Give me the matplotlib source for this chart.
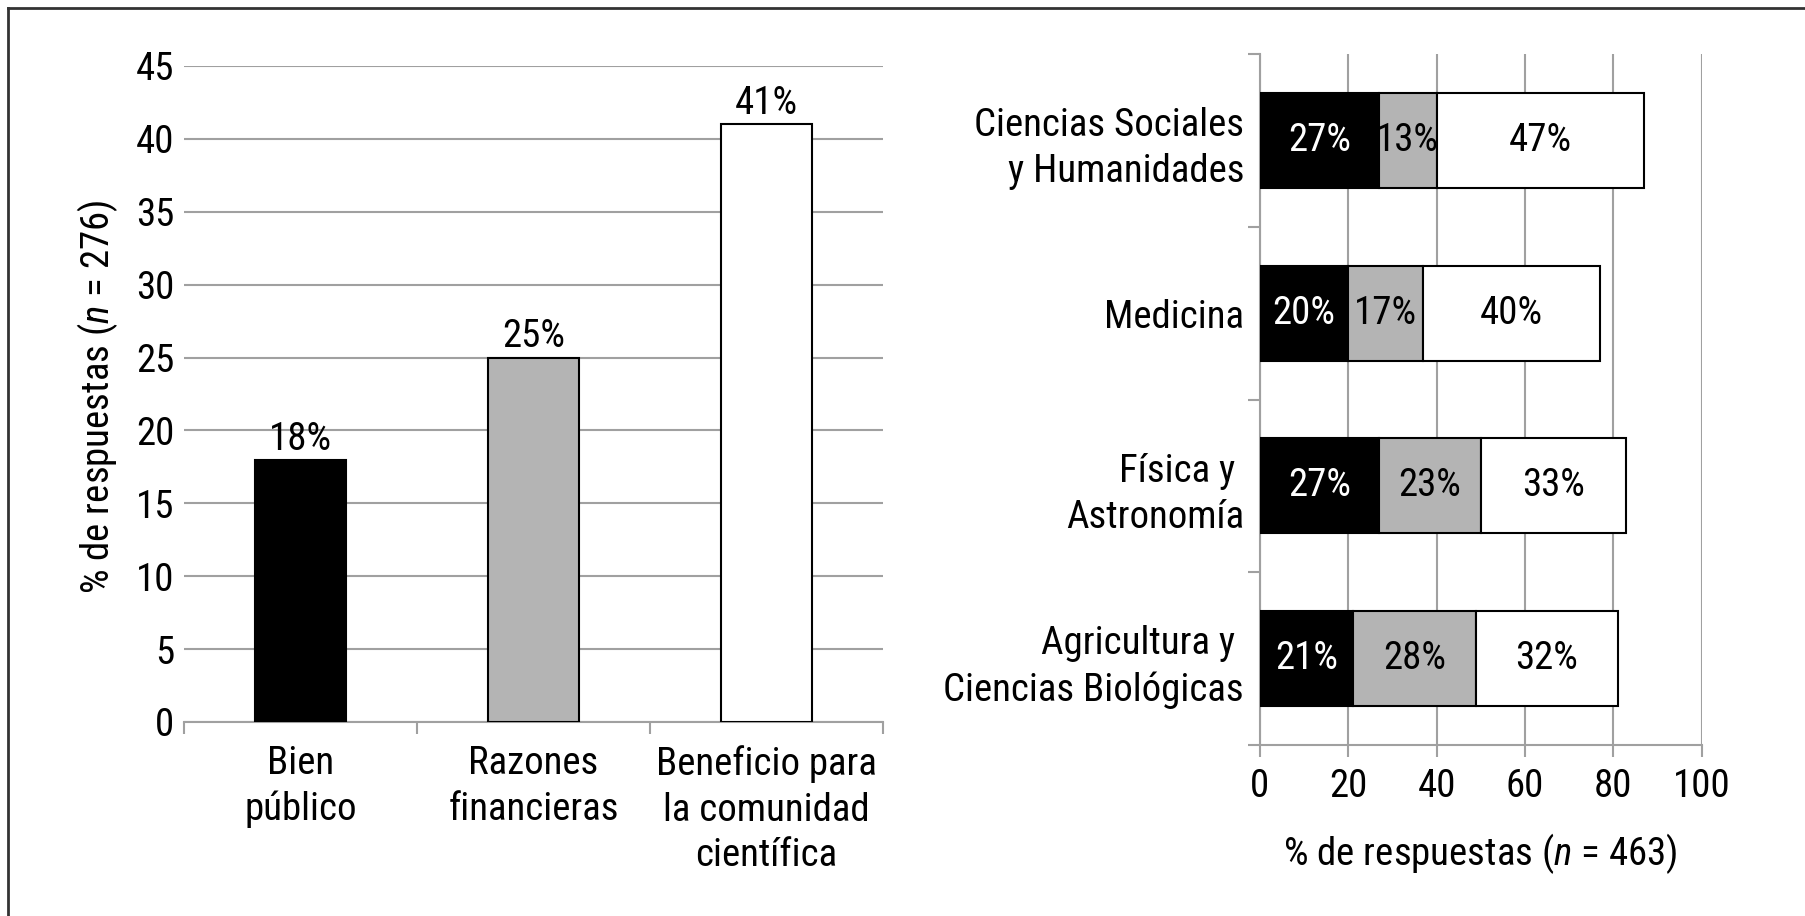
import numpy as np
import matplotlib
matplotlib.use("Agg")
import matplotlib.pyplot as plt
from matplotlib.lines import Line2D
from matplotlib import font_manager as fm

# pick a condensed sans that is installed
installed = {f.name for f in fm.fontManager.ttflist}
FONT = next((n for n in ['Roboto Condensed', 'Archivo Narrow', 'IBM Plex Sans Condensed',
                         'Open Sans Condensed'] if n in installed), 'DejaVu Sans')
plt.rcParams['font.family'] = [FONT, 'DejaVu Sans']
plt.rcParams['mathtext.fontset'] = 'custom'
plt.rcParams['mathtext.it'] = FONT + ':italic'
plt.rcParams['mathtext.rm'] = FONT

# left panel: reasons
razones = ['Bien\npúblico', 'Razones\nfinancieras', 'Beneficio para\nla comunidad\ncientífica']
razones_pct = [18, 25, 41]
razones_col = ['black', '#b4b4b4', 'white']
yticks_left = [0, 5, 10, 15, 20, 25, 30, 35, 40, 45]

# right panel: by field
areas = ['Ciencias Sociales\ny Humanidades', 'Medicina', 'Física y \nAstronomía',
         'Agricultura y \nCiencias Biológicas']
serie_negra = [27, 20, 27, 21]
serie_gris = [13, 17, 23, 28]
serie_blanca = [47, 40, 33, 32]
xticks_right = [0, 20, 40, 60, 80, 100]

FS = 28
GRID = '#a0a0a0'
LS = 1.3
TL = 8.6  # tick length in points (~12 px)

fig = plt.figure(figsize=(18.06, 9.16), dpi=100)

# ---- left chart
ax1 = fig.add_axes([184/1806, 1-722/916, 699/1806, 656/916])
x = np.arange(len(razones))
ax1.bar(x, razones_pct, width=0.39, color=razones_col, edgecolor='black',
        linewidth=1.5, zorder=3)
for xi, v in zip(x, razones_pct):
    ax1.annotate(f'{v}%', (xi, v), xytext=(0, 1.5), textcoords='offset points',
                 ha='center', va='bottom', fontsize=FS)
ax1.set_xlim(-0.5, 2.5)
ax1.set_ylim(0, 45)
ax1.set_yticks(yticks_left)
ax1.yaxis.grid(True, color=GRID, linewidth=1.5, zorder=0)
ax1.set_axisbelow(True)
ax1.set_xticks(x)
ax1.set_xticklabels(razones, fontsize=FS, linespacing=LS, va='top')
ax1.set_xticks([-0.5, 0.5, 1.5, 2.5], minor=True)
ax1.tick_params(axis='x', which='major', length=0, pad=TL + 8)
ax1.tick_params(axis='x', which='minor', length=TL, width=1.5, color=GRID, direction='out')
ax1.tick_params(axis='y', length=0, pad=7, labelsize=FS)
for s in ['top', 'right', 'left']:
    ax1.spines[s].set_visible(False)
ax1.spines['bottom'].set_color(GRID)
ax1.spines['bottom'].set_linewidth(1.5)
ax1.text(-0.123, 0.496, '% de respuestas ($n$ = 276)', transform=ax1.transAxes,
         rotation=90, ha='center', va='center', fontsize=FS)

# ---- right chart
ax2 = fig.add_axes([1260/1806, 1-745/916, 441.5/1806, 691/916])
y = np.arange(len(areas))
left = np.zeros(len(areas))
for vals, col, tcol in [(serie_negra, 'black', 'white'),
                        (serie_gris, '#b4b4b4', 'black'),
                        (serie_blanca, 'white', 'black')]:
    ax2.barh(y, vals, left=left, height=0.55, color=col, edgecolor='black',
             linewidth=1.5, zorder=3)
    for yi, l, v in zip(y, left, vals):
        ax2.text(l + v/2, yi, f'{v}%', ha='center', va='center', color=tcol,
                 fontsize=FS, zorder=4)
    left = left + np.array(vals)
ax2.set_ylim(3.5, -0.5)
ax2.set_xlim(0, 100)
ax2.set_yticks(y)
ax2.set_yticklabels(areas, fontsize=FS, linespacing=LS, ha='right')
ax2.set_yticks([-0.5, 0.5, 1.5, 2.5, 3.5], minor=True)
ax2.tick_params(axis='y', which='major', length=0, pad=11.5)
ax2.tick_params(axis='y', which='minor', length=TL, width=1.5, color=GRID, direction='out')
ax2.set_xticks(xticks_right)
ax2.tick_params(axis='x', length=TL, width=1.5, color=GRID, direction='out',
                pad=8, labelsize=FS)
ax2.xaxis.grid(True, color=GRID, linewidth=1.5, zorder=0)
ax2.set_axisbelow(True)
for s in ['top', 'right']:
    ax2.spines[s].set_visible(False)
for s in ['left', 'bottom']:
    ax2.spines[s].set_color(GRID)
    ax2.spines[s].set_linewidth(1.5)
ax2.set_xlabel('% de respuestas ($n$ = 463)', fontsize=FS)
ax2.xaxis.set_label_coords(0.5, -0.124)

# frame (top and left edge only)
fig.add_artist(Line2D([8/1806, 1], [1-8/916, 1-8/916], color='#333333', linewidth=2,
                      transform=fig.transFigure))
fig.add_artist(Line2D([8/1806, 8/1806], [0, 1-8/916], color='#333333', linewidth=2,
                      transform=fig.transFigure))

fig.savefig('out.png', dpi=100)
